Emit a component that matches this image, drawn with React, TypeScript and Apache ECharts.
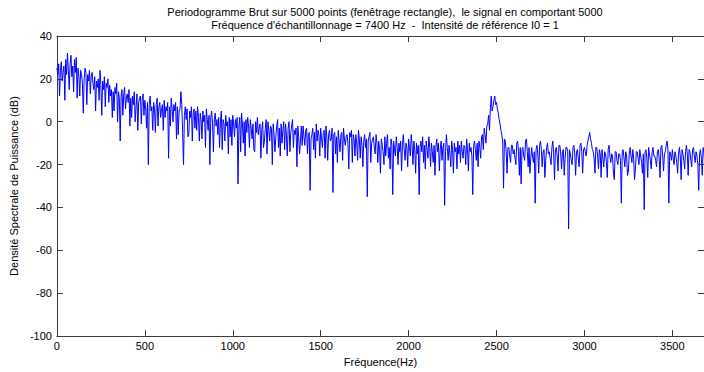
import React, { useEffect, useRef } from "react";
import * as echarts from "echarts";

// Frequency step of the sampled spectrum (Hz)
const STEP_HZ = 5;

// Power spectral density (dB), one value every 5 Hz (20 values per 100 Hz)
const psd0to495 = [
  25, 22, 27, 12, 24, 28, 19, 23, 26, 10, 29, 22, 32, 24, 15, 27, 31, 21, 26, 14,
  29, 23, 30, 11, 25, 21, 12, 24, 22, 18, 4, 20, 25, 23, 8, 22, 19, 24, 13, 21,
  23, 18, 15, 21, 5, 19, 16, 20, 10, 24, 17, 3, 19, 15, 21, 7, 18, 16, 20, 9,
  17, 12, 15, 2, 14, 5, 16, 13, 18, 0, 14, 11, -9, 12, 15, 3, 13, 16, 6, 11,
  13, 9, 15, -2, 11, 2, 12, 8, 14, 0, 7, 13, -4, 9, 11, 12, -1, 10, 13, 3,
];
const psd500to995 = [
  10, 6, -3, 9, -20, 8, 12, 5, 7, -4, 9, 6, -5, 8, 11, -2, 7, 9, 2, 6,
  8, -4, 10, 2, 7, 5, 9, -17, 7, -2, 11, 6, 0, 8, 5, 9, -8, 7, -6, 5,
  6, 14, 8, -5, -20, 3, 7, 1, 6, -7, -6, 5, 2, 7, -9, 4, 6, -3, 5, -4,
  7, 2, -9, 4, 1, -8, 5, 0, 3, -12, 6, 1, -4, 3, -20, 2, 5, -1, -14, 1,
  4, -2, 1, -6, 2, -12, 0, 5, -13, 1, -1, -9, 3, -2, 0, -15, 2, -7, 1, -11,
];
const psd1000to1495 = [
  3, -1, -7, 1, -3, 2, -29, -2, 2, -14, 4, -1, -10, 0, -16, 1, -5, 2, -2, -12,
  1, -3, -8, -1, -13, -14, 0, -5, 2, -6, -3, -1, -17, -4, 0, -12, -9, -3, 1, -15,
  0, -4, -9, -2, -3, -20, -1, -6, -14, -7, -2, 1, -12, -3, -16, -1, -10, -4, 0, -13,
  -1, -6, -16, -3, 0, -14, -5, -2, 1, -12, -4, -6, -3, -21, -2, -7, -15, -9, -2, -11,
  -2, -7, -11, -4, -3, -15, -6, -5, -32, -8, -6, -3, -13, -5, -17, -1, -9, -4, -6, -16,
];
const psd1500to1995 = [
  -3, -8, -12, -5, -4, -17, -2, -7, -18, -6, -4, -9, -8, -3, -33, -6, -5, -15, -7, -19,
  -4, -9, -14, -6, -5, -18, -3, -8, -11, -7, -6, -10, -22, -5, -7, -4, -19, -6, -8, -16,
  -6, -10, -18, -4, -8, -17, -7, -11, -21, -9, -6, -12, -8, -35, -9, -7, -5, -19, -10, -8,
  -7, -12, -15, -6, -10, -19, -9, -13, -24, -8, -11, -14, -20, -7, -16, -10, -6, -17, -12, -22,
  -8, -11, -34, -9, -13, -16, -7, -12, -20, -10, -14, -9, -23, -11, -6, -13, -18, -10, -12, -21,
];
const psd2000to2495 = [
  -8, -12, -16, -6, -11, -20, -9, -13, -24, -10, -15, -11, -34, -12, -9, -14, -7, -19, -11, -22,
  -9, -13, -17, -7, -12, -21, -10, -14, -19, -11, -25, -12, -8, -14, -10, -23, -13, -9, -18, -12,
  -10, -39, -14, -6, -12, -18, -11, -15, -21, -9, -13, -24, -10, -14, -12, -22, -9, -15, -11, -19,
  -9, -14, -17, -11, -12, -20, -8, -13, -23, -10, -14, -12, -16, -34, -11, -9, -13, -18, -10, -21,
  -9, -12, -17, -7, -6, -13, -3, -6, -10, -2, -1, 3, -4, 6, 12, 5, 7, 10, 12, 8,
];
const psd2500to2995 = [
  9, 6, 4, 1, -1, -4, -6, -9, -31, -8, -9, -14, -24, -12, -12, -16, -19, -11, -11, -15,
  -13, -17, -20, -10, -9, -14, -25, -12, -29, -13, -12, -16, -18, -9, -8, -14, -21, -12, -24, -17,
  -12, -16, -19, -14, -38, -13, -11, -15, -24, -11, -9, -13, -21, -14, -13, -26, -18, -12, -10, -15,
  -14, -17, -20, -12, -9, -15, -27, -13, -12, -16, -23, -11, -11, -15, -22, -14, -13, -25, -17, -12,
  -12, -14, -50, -13, -15, -18, -20, -12, -11, -15, -25, -14, -13, -17, -21, -11, -10, -14, -24, -13,
];
const psd3000to3495 = [
  -12, -14, -16, -11, -9, -7, -5, -8, -10, -13, -14, -17, -24, -12, -12, -16, -22, -13, -15, -26,
  -13, -17, -21, -14, -15, -19, -26, -13, -11, -16, -19, -15, -16, -24, -27, -14, -14, -18, -20, -15,
  -15, -18, -38, -14, -13, -17, -21, -14, -16, -25, -23, -15, -12, -16, -19, -13, -17, -27, -22, -14,
  -14, -17, -20, -13, -16, -19, -24, -15, -41, -14, -13, -17, -26, -12, -15, -18, -22, -14, -12, -16,
  -16, -18, -21, -14, -13, -17, -26, -12, -11, -16, -23, -15, -14, -11, -9, -13, -38, -14, -15, -18,
];
const psd3500to3695 = [
  -13, -17, -20, -14, -16, -19, -24, -15, -12, -16, -27, -13, -15, -18, -22, -14, -11, -15, -25, -13,
  -14, -18, -21, -13, -12, -16, -19, -14, -16, -20, -32, -15, -13, -17, -25, -12, -15, -19, -18, -14,
];

const X_TICKS = [0, 500, 1000, 1500, 2000, 2500, 3000, 3500];
const Y_TICKS = [-100, -80, -60, -40, -20, 0, 20, 40];

const TITLE_1 = "Periodogramme Brut sur 5000 points (fenêtrage rectangle),  le signal en comportant 5000";
const TITLE_2 = "Fréquence d'échantillonnage = 7400 Hz  -  Intensité de référence I0 = 1";
const X_NAME = "Fréquence(Hz)";
const Y_NAME = "Densité Spectrale de Puissance (dB)";

const FONT = "'Liberation Sans', Arial, sans-serif";
const AXIS_COLOR = "#3c3c3c";

export default function App() {
  const ref = useRef<HTMLDivElement>(null);

  useEffect(() => {
    if (!ref.current) return;
    const chart = echarts.init(ref.current, undefined, { renderer: "svg" });

    const values = [
      ...psd0to495,
      ...psd500to995,
      ...psd1000to1495,
      ...psd1500to1995,
      ...psd2000to2495,
      ...psd2500to2995,
      ...psd3000to3495,
      ...psd3500to3695,
    ];
    const data = values.map((v, i) => [i * STEP_HZ, v]);

    const labelStyle = { color: "#000", fontFamily: FONT, fontSize: 11 };
    const axisLine = { show: true, onZero: false, lineStyle: { color: AXIS_COLOR, width: 1 } };
    const axisTick = { show: true, inside: true, length: 6, lineStyle: { color: AXIS_COLOR } };

    chart.setOption({
      animation: false,
      backgroundColor: "#fff",
      grid: { left: 53, right: -4, top: 36, bottom: 31, containLabel: false },
      graphic: [
        {
          type: "text",
          x: 385,
          y: 12,
          style: { text: TITLE_1, fill: "#000", font: `11px ${FONT}`, align: "center", verticalAlign: "middle" },
        },
        {
          type: "text",
          x: 385,
          y: 25,
          style: { text: TITLE_2, fill: "#000", font: `11px ${FONT}`, align: "center", verticalAlign: "middle" },
        },
      ],
      xAxis: [
        {
          type: "value",
          min: 0,
          max: 3680,
          interval: 500,
          position: "bottom",
          name: X_NAME,
          nameLocation: "middle",
          nameGap: 17,
          nameTextStyle: labelStyle,
          axisLine,
          axisTick,
          axisLabel: {
            ...labelStyle,
            margin: 4,
            showMaxLabel: false,
            formatter: (v: number) => (X_TICKS.includes(v) ? String(v) : ""),
          },
          splitLine: { show: false },
        },
        {
          type: "value",
          min: 0,
          max: 3680,
          interval: 500,
          position: "top",
          axisLine,
          axisTick,
          axisLabel: { show: false },
          splitLine: { show: false },
        },
      ],
      yAxis: [
        {
          type: "value",
          min: -100,
          max: 40,
          interval: 20,
          position: "left",
          name: Y_NAME,
          nameLocation: "middle",
          nameGap: 31,
          nameTextStyle: labelStyle,
          axisLine,
          axisTick,
          axisLabel: {
            ...labelStyle,
            margin: 5,
            formatter: (v: number) => (Y_TICKS.includes(v) ? String(v) : ""),
          },
          splitLine: { show: false },
        },
        {
          type: "value",
          min: -100,
          max: 40,
          interval: 20,
          position: "right",
          axisLine,
          axisTick,
          axisLabel: { show: false },
          splitLine: { show: false },
        },
      ],
      series: [
        {
          type: "line",
          data,
          xAxisIndex: 0,
          yAxisIndex: 0,
          showSymbol: false,
          symbol: "none",
          clip: true,
          lineStyle: { color: "#0000ff", width: 1 },
        },
      ],
    });

    return () => chart.dispose();
  }, []);

  return (
    <div
      ref={ref}
      style={{ position: "fixed", left: 0, top: 0, width: 704, height: 372, background: "#fff" }}
    />
  );
}
